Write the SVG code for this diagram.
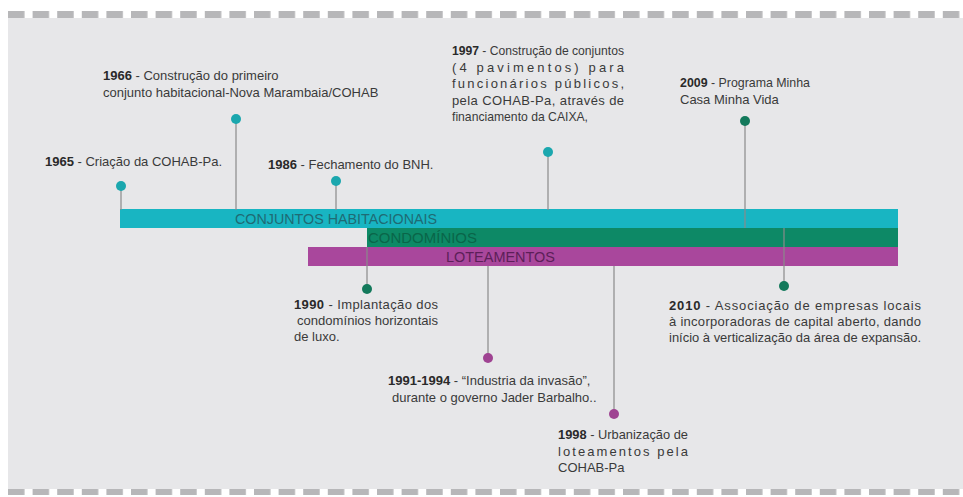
<svg xmlns="http://www.w3.org/2000/svg" width="963" height="497" viewBox="0 0 963 497">
<defs>
<style>
text{font-family:"Liberation Sans",Arial,sans-serif;font-size:13px;fill:#3a3a3a}
.b{font-weight:bold;fill:#2a2a2a}
.bar{font-size:14px}
.conn line{stroke:#8a8a8a;stroke-width:1.2}
.dc{fill:#1ba7ae}
.dg{fill:#13795b}
.dp{fill:#9f4392}
</style>
<pattern id="dash" x="8" y="0" width="24.6" height="10" patternUnits="userSpaceOnUse">
<rect x="0" y="0" width="16.5" height="10" fill="#b7b7b9"/>
</pattern>
</defs>
<rect x="0" y="0" width="963" height="497" fill="#ffffff"/>
<rect x="8" y="18" width="955" height="471" fill="#e7e7e9"/>
<rect x="8" y="11" width="955" height="7" fill="url(#dash)"/>
<rect x="8" y="489" width="955" height="6" fill="url(#dash)"/>

<g id="bars">
<rect x="120" y="209" width="778" height="19" fill="#18b5c2"/>
<rect x="367" y="228" width="531" height="19" fill="#0d8966"/>
<rect x="308" y="247" width="590" height="19" fill="#a9479c"/>
<text class="bar" x="235" y="224" textLength="202" lengthAdjust="spacingAndGlyphs" style="fill:#1f6b74">CONJUNTOS HABITACIONAIS</text>
<text class="bar" x="368" y="243" textLength="109" lengthAdjust="spacingAndGlyphs" style="fill:#0a6549">CONDOMÍNIOS</text>
<text class="bar" x="446" y="262" textLength="109" lengthAdjust="spacingAndGlyphs" style="fill:#5c1f58">LOTEAMENTOS</text>
</g>

<g id="connectors" class="conn">
<line x1="121" y1="186" x2="121" y2="210"/>
<line x1="236" y1="119" x2="236" y2="210"/>
<line x1="336" y1="181" x2="336" y2="210"/>
<line x1="548" y1="152" x2="548" y2="210"/>
<line x1="745" y1="121" x2="745" y2="228"/>
<line x1="367" y1="247" x2="367" y2="289"/>
<line x1="488" y1="266" x2="488" y2="358"/>
<line x1="614" y1="266" x2="614" y2="414"/>
<line x1="784" y1="228" x2="784" y2="286"/>
</g>

<g id="e1965">
<circle class="dc" cx="121" cy="186" r="5"/>
<text x="45" y="166"><tspan class="b">1965</tspan> - Criação da COHAB-Pa.</text>
</g>
<g id="e1966">
<circle class="dc" cx="236" cy="119" r="5"/>
<text x="103" y="80"><tspan class="b">1966</tspan> - Construção do primeiro</text>
<text x="103" y="97">conjunto habitacional-Nova Marambaia/COHAB</text>
</g>
<g id="e1986">
<circle class="dc" cx="336" cy="181" r="5"/>
<text x="268" y="169"><tspan class="b">1986</tspan> - Fechamento do BNH.</text>
</g>
<g id="e1997">
<circle class="dc" cx="548" cy="152" r="5"/>
<text x="452" y="55" textLength="172" lengthAdjust="spacingAndGlyphs"><tspan class="b">1997</tspan> - Construção de conjuntos</text>
<text x="452" y="71.5" textLength="172" lengthAdjust="spacing">(4 pavimentos) para</text>
<text x="452" y="88" textLength="172" lengthAdjust="spacing">funcionários públicos,</text>
<text x="452" y="104.5" textLength="172" lengthAdjust="spacing">pela COHAB-Pa, através de</text>
<text x="452" y="121" textLength="136" lengthAdjust="spacingAndGlyphs">financiamento da CAIXA,</text>
</g>
<g id="e2009">
<circle class="dg" cx="745" cy="121" r="5"/>
<text x="680" y="87" textLength="130" lengthAdjust="spacingAndGlyphs"><tspan class="b">2009</tspan> - Programa Minha</text>
<text x="680" y="104">Casa Minha Vida</text>
</g>
<g id="e1990">
<circle class="dg" cx="367" cy="289" r="5"/>
<text x="294" y="309" textLength="144" lengthAdjust="spacing"><tspan class="b">1990</tspan> - Implantação dos</text>
<text x="297" y="325" textLength="141" lengthAdjust="spacingAndGlyphs">condomínios horizontais</text>
<text x="294" y="341">de luxo.</text>
</g>
<g id="e1991">
<circle class="dp" cx="488" cy="358" r="5"/>
<text x="388" y="385"><tspan class="b">1991-1994</tspan> - “Industria da invasão”,</text>
<text x="392" y="402">durante o governo Jader Barbalho..</text>
</g>
<g id="e1998">
<circle class="dp" cx="614" cy="414" r="5"/>
<text x="558" y="439" textLength="130" lengthAdjust="spacingAndGlyphs"><tspan class="b">1998</tspan> - Urbanização de</text>
<text x="558" y="456" textLength="130" lengthAdjust="spacing">loteamentos pela</text>
<text x="558" y="472">COHAB-Pa</text>
</g>
<g id="e2010">
<circle class="dg" cx="784" cy="286" r="5"/>
<text x="669" y="310" textLength="252" lengthAdjust="spacing"><tspan class="b">2010</tspan> - Associação de empresas locais</text>
<text x="669" y="326" textLength="252" lengthAdjust="spacing">à incorporadoras de capital aberto, dando</text>
<text x="669" y="342" textLength="252" lengthAdjust="spacingAndGlyphs">início à verticalização da área de expansão.</text>
</g>
</svg>
